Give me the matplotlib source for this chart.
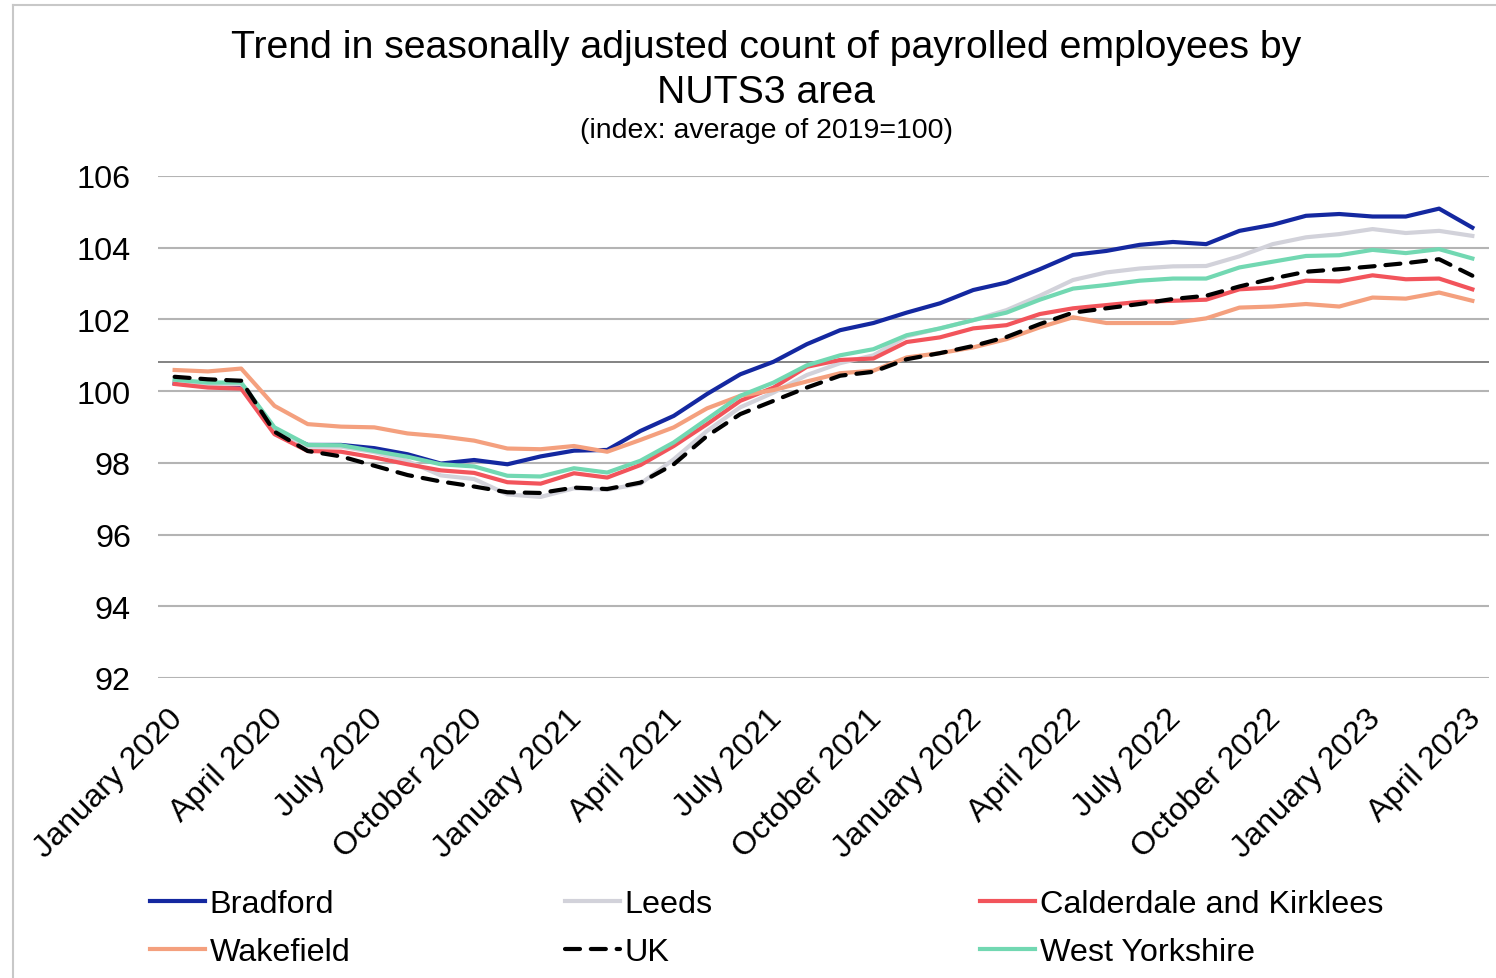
import matplotlib
matplotlib.use("Agg")
import matplotlib.pyplot as plt
import matplotlib.transforms as mtransforms
from matplotlib.lines import Line2D

plt.rcParams['font.family'] = ['Liberation Sans', 'DejaVu Sans']

months = ["January", "February", "March", "April", "May", "June", "July",
          "August", "September", "October", "November", "December"]
dates = [f"{months[m % 12]} {2020 + m // 12}" for m in range(40)]

bradford = [100.22, 100.13, 100.13, 98.90, 98.50, 98.50, 98.41, 98.24, 97.98, 98.08,
            97.96, 98.18, 98.34, 98.36, 98.89, 99.31, 99.92, 100.47, 100.82, 101.31,
            101.70, 101.90, 102.19, 102.45, 102.82, 103.03, 103.40, 103.80, 103.91, 104.08,
            104.16, 104.10, 104.47, 104.64, 104.89, 104.94, 104.87, 104.87, 105.09, 104.56]
leeds = [100.30, 100.18, 100.20, 98.95, 98.45, 98.45, 98.30, 98.05, 97.65, 97.55,
         97.12, 97.05, 97.29, 97.25, 97.42, 98.10, 98.89, 99.55, 99.96, 100.45,
         100.78, 101.00, 101.53, 101.75, 101.98, 102.26, 102.66, 103.10, 103.31, 103.42,
         103.48, 103.49, 103.76, 104.10, 104.29, 104.38, 104.52, 104.41, 104.47, 104.33]
calderdale = [100.20, 100.10, 100.07, 98.80, 98.33, 98.31, 98.15, 97.96, 97.79, 97.72,
              97.46, 97.42, 97.71, 97.59, 97.94, 98.47, 99.08, 99.73, 100.10, 100.68,
              100.87, 100.91, 101.37, 101.50, 101.75, 101.84, 102.15, 102.31, 102.40, 102.49,
              102.52, 102.55, 102.84, 102.89, 103.08, 103.06, 103.23, 103.12, 103.14, 102.84]
wakefield = [100.59, 100.55, 100.63, 99.59, 99.08, 99.01, 98.99, 98.82, 98.74, 98.62,
             98.40, 98.38, 98.47, 98.31, 98.64, 98.99, 99.52, 99.87, 100.03, 100.27,
             100.50, 100.57, 100.94, 101.06, 101.22, 101.45, 101.78, 102.06, 101.90, 101.90,
             101.90, 102.03, 102.33, 102.36, 102.43, 102.36, 102.61, 102.58, 102.75, 102.52]
uk = [100.40, 100.33, 100.29, 98.87, 98.33, 98.18, 97.92, 97.66, 97.48, 97.34,
      97.18, 97.16, 97.31, 97.27, 97.45, 97.96, 98.75, 99.36, 99.73, 100.10,
      100.43, 100.54, 100.89, 101.06, 101.26, 101.51, 101.87, 102.19, 102.31, 102.43,
      102.57, 102.66, 102.92, 103.14, 103.33, 103.40, 103.48, 103.57, 103.68, 103.22]
west_yorkshire = [100.32, 100.24, 100.24, 98.99, 98.50, 98.49, 98.33, 98.17, 97.96, 97.90,
                  97.64, 97.62, 97.85, 97.73, 98.06, 98.57, 99.22, 99.87, 100.24, 100.72,
                  101.00, 101.17, 101.56, 101.75, 101.98, 102.19, 102.55, 102.86, 102.96, 103.08,
                  103.14, 103.14, 103.45, 103.61, 103.77, 103.79, 103.94, 103.85, 103.96, 103.70]

y_ticks = [92, 94, 96, 98, 100, 102, 104, 106]
stray_line_value = 100.81  # dark horizontal rule visible in the reference

fig = plt.figure(figsize=(14.96, 9.79), dpi=100)
ax = fig.add_axes([158 / 1496, 1 - 679 / 979, (1489 - 158) / 1496, (679 - 177) / 979])

x = list(range(len(dates)))
lw = 3.0
ax.plot(x, bradford, color='#1428A0', lw=lw, label='Bradford', zorder=3)
ax.plot(x, leeds, color='#D2D2DA', lw=lw, label='Leeds', zorder=3)
ax.plot(x, calderdale, color='#F2545B', lw=lw, label='Calderdale and Kirklees', zorder=3)
ax.plot(x, wakefield, color='#F4A07E', lw=lw, label='Wakefield', zorder=3)
ax.plot(x, uk, color='black', lw=lw, ls=(0, (3.6, 2.6)), dash_capstyle='round',
        label='UK', zorder=4)
ax.plot(x, west_yorkshire, color='#72D8B2', lw=lw, label='West Yorkshire', zorder=3)

ax.set_xlim(-0.5, len(dates) - 0.5)
ax.set_ylim(y_ticks[0], y_ticks[-1])
ax.set_yticks(y_ticks)
ax.set_yticklabels([str(t) for t in y_ticks])
ax.yaxis.grid(True, color='#B4B4B4', lw=1.5)
ax.axhline(stray_line_value, color='#6E6E6E', lw=1.2, zorder=1)
ax.set_axisbelow(True)
ax.set_xticks(x[::3])
ax.set_xticklabels(dates[::3], rotation=45, ha='right', rotation_mode='anchor')
ax.tick_params(axis='both', length=0, labelsize=23.3)
ax.tick_params(axis='y', pad=19.5)
ax.tick_params(axis='x', pad=18)
offset = mtransforms.ScaledTranslation(-7 / 100, 0, fig.dpi_scale_trans)
for lab in ax.get_xticklabels():
    lab.set_transform(lab.get_transform() + offset)
for s in ax.spines.values():
    s.set_visible(False)

fig.text(766 / 1496, 1 - 48 / 979, "Trend in seasonally adjusted count of payrolled employees by",
         ha='center', va='center', fontsize=28.3)
fig.text(766 / 1496, 1 - 93 / 979, "NUTS3 area", ha='center', va='center', fontsize=28.3)
fig.text(766 / 1496, 1 - 131 / 979, "(index: average of 2019=100)", ha='center', va='center',
         fontsize=20.5)

handles, labels = ax.get_legend_handles_labels()
hmap = dict(zip(labels, handles))
cols = [["Bradford", "Wakefield"], ["Leeds", "UK"], ["Calderdale and Kirklees", "West Yorkshire"]]
col_x = [150, 565, 980]
for cx, names in zip(col_x, cols):
    leg = fig.legend([hmap[n] for n in names], names, loc='upper left',
                     bbox_to_anchor=(cx / 1496, 1 - 890 / 979), frameon=False,
                     fontsize=23.3, handlelength=1.7, handletextpad=0.15,
                     labelspacing=0.56, borderaxespad=0, borderpad=0)

fig.add_artist(Line2D([13 / 1496, 1.0], [1 - 6 / 979, 1 - 6 / 979], transform=fig.transFigure,
                      color='#C8C8C8', lw=1.5))
fig.add_artist(Line2D([13 / 1496, 13 / 1496], [0, 1 - 6 / 979], transform=fig.transFigure,
                      color='#C8C8C8', lw=1.5))

fig.savefig("out.png", dpi=100, facecolor='white')
